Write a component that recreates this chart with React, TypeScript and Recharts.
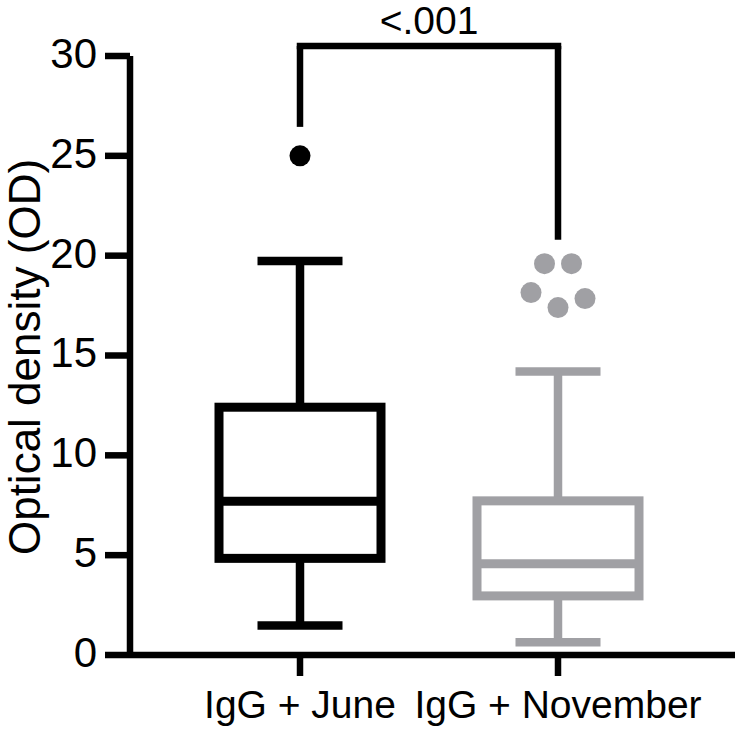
import React from 'react';
import { ComposedChart, XAxis, YAxis, Bar, Scatter, ReferenceLine } from 'recharts';

const categories = ['IgG + June', 'IgG + November'];
const whiskerLow = [1.48, 0.64];
const q1Values = [4.84, 2.96];
const medianValues = [7.7, 4.57];
const q3Values = [12.41, 7.72];
const whiskerHigh = [19.73, 14.2];

const juneOutliers = [25.0];
const juneLanes = [0];
const novemberOutliers = [19.6, 19.6, 18.15, 17.4, 17.85];
const novemberLanes = [-1, 1, -2, 0, 2];

const yTicks = [0, 5, 10, 15, 20, 25, 30];
const pValueText = '<.001';
const bracketTop = 30.5;
const bracketLegEnds = [26.45, 20.8];

const COLORS: Record<string, string> = {
  'IgG + June': '#000000',
  'IgG + November': '#a0a0a4',
};
const FONT = '"Liberation Sans", Arial, Helvetica, sans-serif';

const rows = categories.map((name, i) => ({
  name,
  range: [whiskerLow[i], whiskerHigh[i]],
  min: whiskerLow[i],
  q1: q1Values[i],
  median: medianValues[i],
  q3: q3Values[i],
  max: whiskerHigh[i],
}));

const juneData = juneOutliers.map((value, i) => ({ name: categories[0], value, lane: juneLanes[i] }));
const novemberData = novemberOutliers.map((value, i) => ({ name: categories[1], value, lane: novemberLanes[i] }));

const BoxShape = (props: any) => {
  const { x, y, width, height, payload } = props;
  if (!payload) return null;
  const top = Math.min(y, y + height);
  const h = Math.abs(height);
  const lo = payload.min;
  const hi = payload.max;
  const py = (v: number) => top + ((hi - v) / (hi - lo)) * h;
  const cx = x + width / 2;
  const color = COLORS[payload.name];
  const sw = 8.5;
  const capHalf = 42.5;
  return (
    <g>
      <line x1={cx} x2={cx} y1={py(hi)} y2={py(payload.q3)} stroke={color} strokeWidth={sw} />
      <line x1={cx} x2={cx} y1={py(payload.q1)} y2={py(lo)} stroke={color} strokeWidth={sw} />
      <line x1={cx - capHalf} x2={cx + capHalf} y1={py(hi)} y2={py(hi)} stroke={color} strokeWidth={sw} />
      <line x1={cx - capHalf} x2={cx + capHalf} y1={py(lo)} y2={py(lo)} stroke={color} strokeWidth={sw} />
      <rect
        x={x}
        y={py(payload.q3)}
        width={width}
        height={py(payload.q1) - py(payload.q3)}
        fill="none"
        stroke={color}
        strokeWidth={9}
      />
      <line x1={x} x2={x + width} y1={py(payload.median)} y2={py(payload.median)} stroke={color} strokeWidth={9} />
    </g>
  );
};

const makeDot = (color: string) => (props: any) => {
  const { cx, cy, payload } = props;
  if (cx == null || cy == null) return null;
  const lane = payload?.lane ?? 0;
  return <circle cx={cx + lane * 13.5} cy={cy} r={10.5} fill={color} />;
};

const YLabel = () => (
  <text
    transform="translate(40,357) rotate(-90)"
    textAnchor="middle"
    fontSize={44}
    fontFamily={FONT}
    fill="#000"
  >
    Optical density (OD)
  </text>
);

export default function App() {
  return (
    <div style={{ position: 'absolute', left: 0, top: 0, background: '#fff' }}>
      <ComposedChart
        width={735}
        height={730}
        data={rows}
        margin={{ top: 56, right: 0, bottom: 0, left: 0 }}
      >
        <XAxis
          dataKey="name"
          type="category"
          allowDuplicatedCategory={false}
          height={75}
          padding={{ left: 41, right: 48 }}
          axisLine={{ stroke: '#000', strokeWidth: 6.5 }}
          tickLine={{ stroke: '#000', strokeWidth: 6.5 }}
          tickSize={21}
          tickMargin={14}
          tick={{ fontSize: 39, fill: '#000', fontFamily: FONT }}
          interval={0}
        />
        <YAxis
          type="number"
          domain={[0, 30]}
          ticks={yTicks}
          interval={0}
          width={130}
          axisLine={{ stroke: '#000', strokeWidth: 6.5 }}
          tickLine={{ stroke: '#000', strokeWidth: 6.5 }}
          tickSize={25}
          tickMargin={8}
          tick={{ fontSize: 42, fill: '#000', fontFamily: FONT, dy: -3 }}
          label={{ content: <YLabel /> }}
        />
        <Bar dataKey="range" barSize={162} shape={<BoxShape />} isAnimationActive={false} />
        <Scatter data={juneData} dataKey="value" shape={makeDot(COLORS[categories[0]])} isAnimationActive={false} />
        <Scatter data={novemberData} dataKey="value" shape={makeDot(COLORS[categories[1]])} isAnimationActive={false} />
        <ReferenceLine
          segment={[{ x: categories[0], y: bracketTop }, { x: categories[1], y: bracketTop }]}
          stroke="#000"
          strokeWidth={6.5}
          strokeLinecap="square"
          ifOverflow="visible"
          label={{ value: pValueText, position: 'top', offset: 12, fontSize: 39, fill: '#000', fontFamily: FONT }}
        />
        <ReferenceLine
          segment={[{ x: categories[0], y: bracketTop }, { x: categories[0], y: bracketLegEnds[0] }]}
          stroke="#000"
          strokeWidth={6.5}
          ifOverflow="visible"
        />
        <ReferenceLine
          segment={[{ x: categories[1], y: bracketTop }, { x: categories[1], y: bracketLegEnds[1] }]}
          stroke="#000"
          strokeWidth={6.5}
          ifOverflow="visible"
        />
      </ComposedChart>
    </div>
  );
}
